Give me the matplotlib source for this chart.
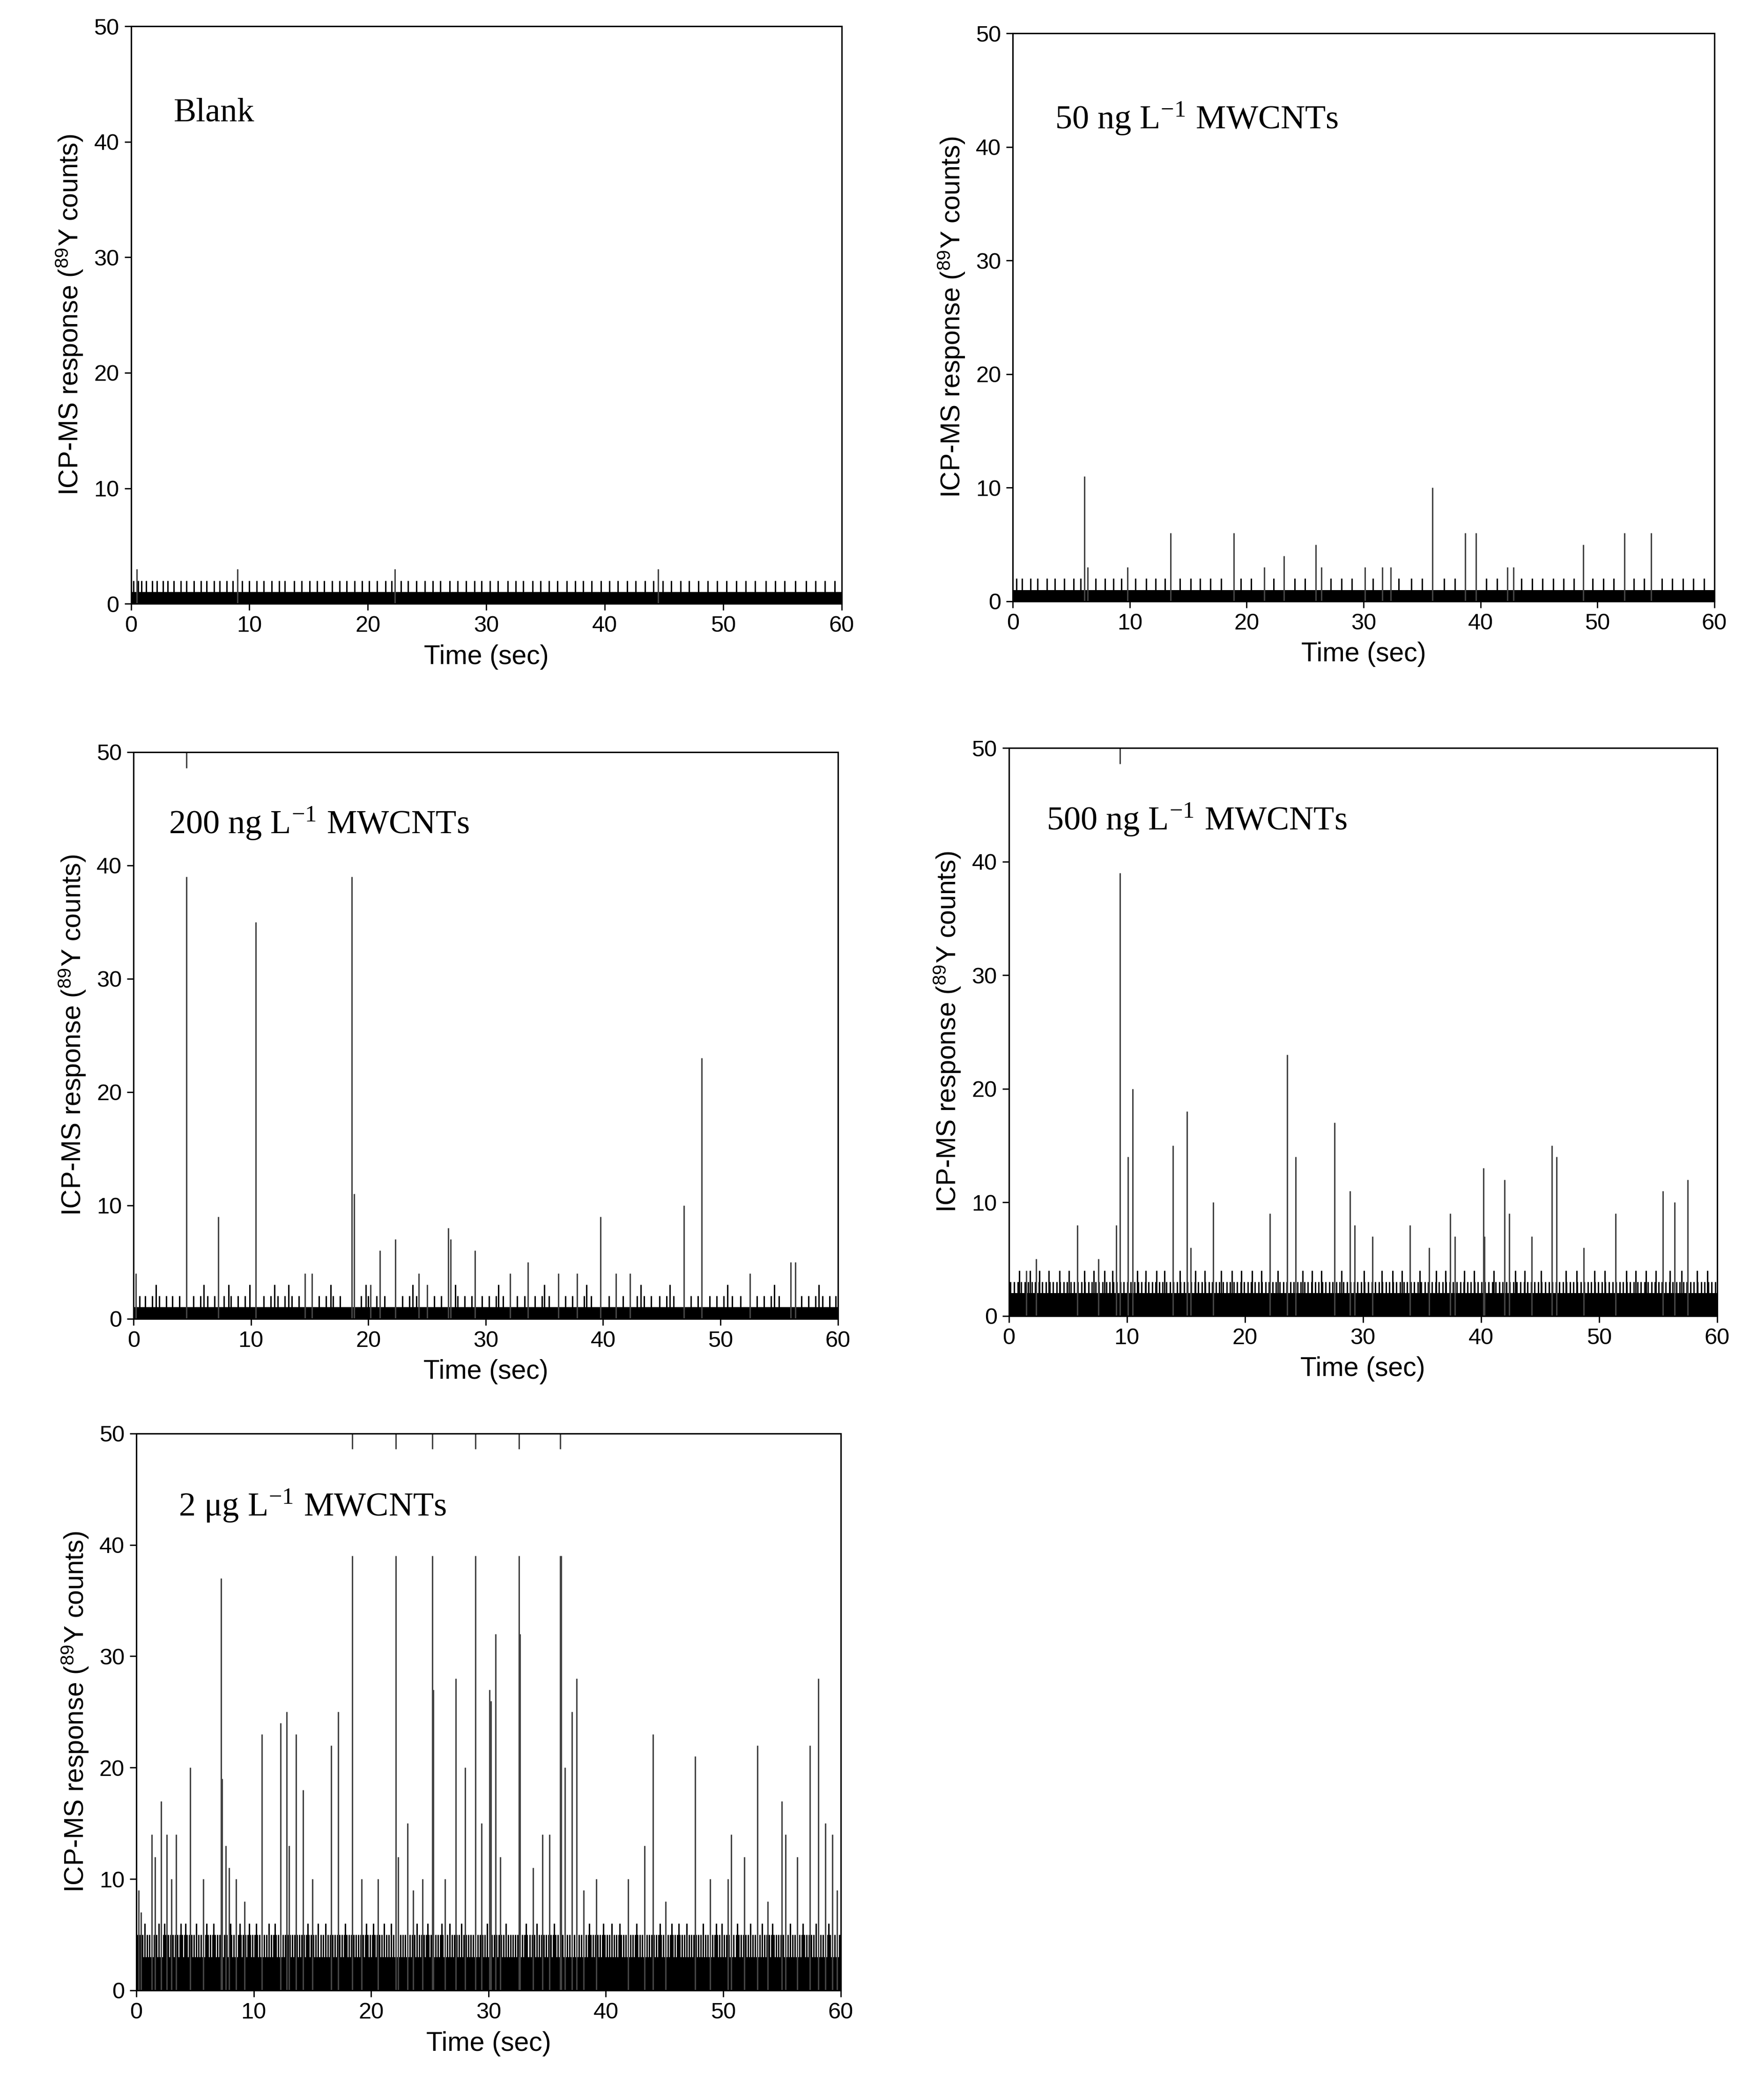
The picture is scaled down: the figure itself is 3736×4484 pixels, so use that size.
import matplotlib
matplotlib.use("Agg")
import matplotlib.pyplot as plt
import numpy as np

plt.rcParams["mathtext.fontset"] = "stix"
plt.rcParams["font.family"] = "Liberation Sans"

titles = ["Blank", "50 ng L$^{\\mathregular{-1}}$ MWCNTs", "200 ng L$^{\\mathregular{-1}}$ MWCNTs",
          "500 ng L$^{\\mathregular{-1}}$ MWCNTs", "2 μg L$^{\\mathregular{-1}}$ MWCNTs"]
x_ticks = [0, 10, 20, 30, 40, 50, 60]
y_ticks = [0, 10, 20, 30, 40, 50]

# baseline (solid) count level per panel
base_level = [1, 1, 1, 2, 3]

# times of minor spikes (count value given per list)
blank_t2 = [0.2, 0.6, 0.9, 1.3, 1.8, 2.2, 2.7, 3.1, 3.6, 4.2, 4.7, 5.3, 5.9, 6.4, 7.0, 7.5, 8.1, 8.6, 9.4,
            10.0, 10.6, 11.2, 11.9, 12.5, 13.0, 13.8, 14.4, 15.1, 15.7, 16.3, 17.0, 17.6, 18.2, 18.9, 19.5,
            20.1, 20.8, 21.5, 22.0, 22.8, 23.4, 24.1, 24.8, 25.5, 26.1, 26.9, 27.6, 28.3, 29.0, 29.6,
            30.3, 31.0, 31.8, 32.5, 33.1, 33.9, 34.6, 35.3, 36.0, 36.8, 37.5, 38.2, 38.9, 39.7,
            40.4, 41.1, 41.9, 42.6, 43.4, 44.1, 44.9, 45.6, 46.4, 47.1, 47.9, 48.7, 49.5, 50.3,
            51.1, 51.9, 52.7, 53.6, 54.4, 55.2, 56.1, 57.0, 57.8, 58.6, 59.4]
blank_spikes = [(0.5, 3), (9.0, 3), (22.3, 3), (44.5, 3)]

p50_t2 = [0.3, 0.8, 1.5, 2.1, 2.9, 3.6, 4.4, 5.2, 5.8, 7.1, 7.9, 8.6, 9.3, 10.5, 11.4, 12.2, 13.0, 14.3,
          15.2, 16.0, 16.9, 17.8, 19.5, 20.4, 22.3, 24.1, 25.0, 27.2, 28.1, 29.0, 30.8, 33.0, 34.1, 35.0,
          36.9, 37.8, 40.5, 41.4, 43.5, 44.4, 45.3, 46.2, 47.1, 48.0, 49.6, 50.5, 51.4, 53.1, 54.0, 55.5,
          56.4, 57.3, 58.2, 59.1]
p50_spikes = [(6.1, 11), (6.4, 3), (9.8, 3), (13.5, 6), (18.9, 6), (21.5, 3), (23.2, 4), (25.9, 5), (26.4, 3),
              (30.1, 3), (31.6, 3), (32.3, 3), (35.9, 10), (38.7, 6), (39.6, 6), (42.3, 3), (42.8, 3),
              (48.8, 5), (52.3, 6), (54.6, 6)]

p200_t2 = [0.5, 1.0, 1.6, 2.2, 2.8, 3.3, 3.9, 5.1, 5.7, 6.3, 6.9, 7.7, 8.3, 8.9, 9.5, 11.1, 11.7, 12.3, 12.9,
           13.5, 14.1, 15.8, 16.4, 17.0, 17.6, 19.4, 20.0, 20.7, 21.4, 22.9, 23.5, 24.1, 25.6, 26.2, 27.6,
           28.2, 28.8, 29.7, 30.3, 30.9, 31.5, 32.7, 33.3, 34.2, 34.8, 35.4, 36.8, 37.4, 38.4, 39.0, 40.5,
           41.7, 42.9, 43.5, 44.1, 44.8, 45.4, 46.0, 47.5, 48.1, 49.1, 49.7, 50.3, 51.0, 51.7, 53.1, 53.7,
           54.3, 55.0, 56.9, 57.5, 58.1, 58.7, 59.3, 59.8]
p200_t3 = [1.9, 6.0, 8.1, 9.9, 12.0, 13.2, 16.8, 19.8, 23.8, 27.4, 31.1, 35.0, 38.6, 43.2, 45.7, 50.6, 54.6, 58.4]
p200_spikes = [(0.2, 4), (4.5, 39), (7.2, 9), (10.4, 35), (14.6, 4), (15.2, 4), (18.6, 39), (18.8, 11),
               (20.2, 3), (21.0, 6), (22.3, 7), (24.3, 4), (25.0, 3), (26.8, 8), (27.0, 7), (29.1, 6),
               (32.1, 4), (33.6, 5), (36.2, 4), (37.8, 4), (39.8, 9), (41.1, 4), (42.3, 4), (46.9, 10),
               (48.4, 23), (52.5, 4), (56.0, 5), (56.4, 5)]
p200_top = [4.5]

p500_t3 = list(np.round(np.arange(0.15, 60, 0.3), 2))  # dense 3-count layer positions
p500_t4 = [0.9, 1.8, 2.6, 3.4, 4.3, 5.1, 6.4, 7.2, 8.1, 8.8, 10.9, 11.6, 12.5, 13.2, 14.5, 15.8, 16.6, 18.0,
           18.9, 19.7, 20.6, 21.4, 22.8, 24.9, 25.7, 26.5, 28.2, 30.1, 31.6, 32.5, 33.3, 34.8, 36.2, 37.0,
           38.6, 39.4, 41.1, 42.9, 43.7, 45.1, 47.2, 48.1, 49.6, 50.5, 52.3, 53.1, 54.0, 54.8, 56.0, 57.0,
           58.3, 59.2]
p500_spikes = [(1.5, 4), (2.3, 5), (5.8, 8), (7.6, 5), (9.1, 8), (9.4, 39), (10.1, 14), (10.5, 20), (13.9, 15),
               (15.1, 18), (15.4, 6), (17.3, 10), (22.1, 9), (23.6, 23), (24.3, 14), (27.6, 17), (28.9, 11),
               (29.3, 8), (30.8, 7), (34.0, 8), (35.6, 6), (37.4, 9), (37.8, 7), (40.2, 13), (40.3, 7),
               (42.0, 12), (42.4, 9), (44.3, 7), (46.0, 15), (46.4, 14), (48.7, 6), (51.4, 9), (55.4, 11),
               (56.4, 10), (57.5, 12)]
p500_top = [9.4]

p2u_t5 = list(np.round(np.arange(0.1, 60, 0.2), 2))  # dense 4-5 count layer positions
p2u_t6 = [0.7, 1.9, 2.4, 3.8, 4.2, 5.1, 6.0, 6.6, 8.0, 8.8, 9.6, 10.2, 11.3, 11.8, 14.6, 15.5, 16.1, 17.8, 19.6,
          20.2, 21.1, 21.7, 23.9, 24.8, 26.0, 26.7, 27.7, 29.9, 31.5, 33.2, 34.1, 35.6, 38.6, 39.8, 40.5, 41.2,
          42.6, 44.6, 45.6, 46.2, 46.9, 48.3, 49.4, 49.9, 51.2, 52.3, 53.3, 54.2, 55.7, 56.8, 57.9, 59.0]
p2u_spikes = [(0.2, 9), (0.4, 7), (1.3, 14), (1.6, 12), (2.1, 17), (2.6, 14), (3.0, 10), (3.4, 14), (4.6, 20),
              (5.7, 10), (7.2, 37), (7.3, 19), (7.6, 13), (7.9, 11), (8.5, 10), (9.2, 8), (10.7, 23), (12.3, 24),
              (12.8, 25), (13.0, 13), (13.6, 23), (14.2, 18), (15.0, 10), (16.6, 22), (17.2, 25), (18.4, 39),
              (19.2, 10), (20.6, 10), (22.1, 39), (22.3, 12), (23.1, 15), (23.6, 9), (24.4, 10), (25.2, 39),
              (25.3, 27), (26.3, 10), (27.2, 28), (28.0, 20), (28.9, 39), (29.4, 15), (30.1, 27), (30.2, 26),
              (30.6, 32), (31.0, 12), (32.6, 39), (32.7, 32), (33.8, 11), (34.6, 14), (35.2, 14), (36.1, 39),
              (36.2, 39), (36.5, 20), (37.1, 25), (37.5, 28), (38.1, 9), (39.2, 10), (41.9, 10), (43.3, 13),
              (44.0, 23), (45.1, 8), (47.6, 21), (48.9, 10), (50.4, 10), (50.7, 14), (51.8, 12), (52.9, 22),
              (53.8, 8), (55.0, 17), (55.3, 14), (56.3, 12), (57.4, 22), (58.1, 28), (58.7, 15), (59.3, 14),
              (59.7, 9)]
p2u_top = [18.4, 22.1, 25.2, 28.9, 32.6, 36.1]

panels = [
    dict(levels=[(blank_t2, 2)], spikes=blank_spikes, top=[]),
    dict(levels=[(p50_t2, 2)], spikes=p50_spikes, top=[]),
    dict(levels=[(p200_t2, 2), (p200_t3, 3)], spikes=p200_spikes, top=p200_top),
    dict(levels=[(p500_t3, 3), (p500_t4, 4)], spikes=p500_spikes, top=p500_top),
    dict(levels=[(p2u_t5, 5), (p2u_t6, 6)], spikes=p2u_spikes, top=p2u_top),
]

rects = [(0.0748, 0.7125, 0.406, 0.275), (0.5786, 0.7137, 0.4008, 0.2704),
         (0.0763, 0.3721, 0.4023, 0.2698), (0.5763, 0.3734, 0.4046, 0.2704),
         (0.0779, 0.0522, 0.4023, 0.2652)]
text_pos = [(3.6, 42.5), (3.6, 42.5), (3.0, 43.7), (3.2, 43.7), (3.6, 43.5)]

fig = plt.figure(figsize=(37.37, 44.84), dpi=100)
for i, p in enumerate(panels):
    ax = fig.add_axes(rects[i])
    ax.fill_between([0, 60], 0, base_level[i], color="black", lw=0)
    for ts, v in p["levels"]:
        ax.vlines(ts, 0, v, color="black", lw=2.2)
    st = [s[0] for s in p["spikes"]]
    sv = [s[1] for s in p["spikes"]]
    ax.vlines(st, 0, sv, color="#444444", lw=2.2)
    if p["top"]:
        ax.vlines(p["top"], 48.6, 50, color="#444444", lw=2.2)
    ax.set_xlim(0, 60)
    ax.set_ylim(0, 50)
    ax.set_xticks(x_ticks)
    ax.set_yticks(y_ticks)
    ax.tick_params(direction="out", length=10, width=2, labelsize=35, pad=8)
    for s in ax.spines.values():
        s.set_linewidth(2.2)
    ax.set_xlabel("Time (sec)", fontsize=41, labelpad=12)
    ax.set_ylabel("ICP-MS response ($^{\\mathregular{89}}$Y counts)", fontsize=41, labelpad=14)
    ax.text(text_pos[i][0], text_pos[i][1], titles[i], fontsize=52, family="Liberation Serif",
            va="center", ha="left")

fig.savefig("out.png", dpi=100)
